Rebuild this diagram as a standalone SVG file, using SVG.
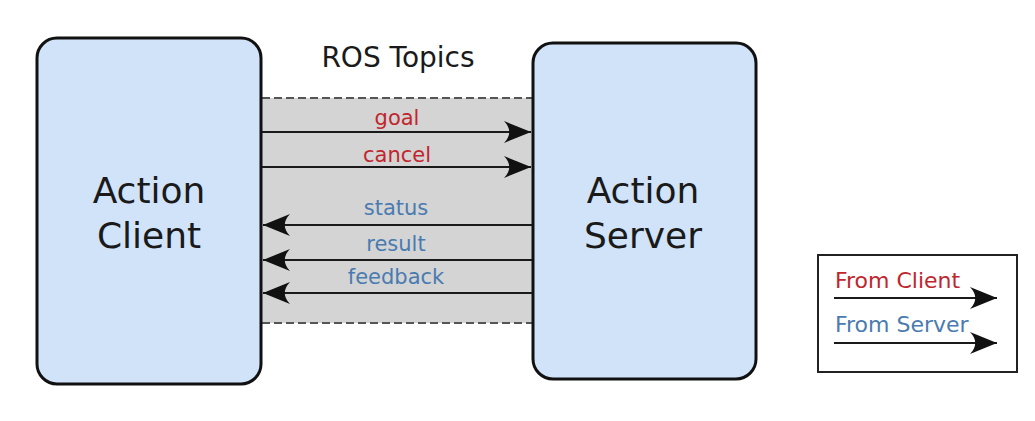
<svg xmlns="http://www.w3.org/2000/svg" width="1035" height="421" viewBox="0 0 1035 421">
  <style>
    .box { fill: #d0e3f9; stroke: #111; stroke-width: 3; }
    .title { font-family: "DejaVu Sans", sans-serif; font-size: 36px; fill: #1a1a1a; text-anchor: middle; }
    .lbl { font-family: "DejaVu Sans", sans-serif; font-size: 21px; text-anchor: middle; }
    .key { font-family: "DejaVu Sans", sans-serif; font-size: 22px; }
    .client { fill: #c0262e; }
    .server { fill: #4a7bb0; }
    .wire { stroke: #1a1a1a; stroke-width: 2.2; fill: none; }
    .dash { stroke: #555; stroke-width: 2; stroke-dasharray: 8 4; fill: none; }
  </style>
  <defs>
    <marker id="head" viewBox="-28 -13 30 26" refX="0" refY="0" markerWidth="30" markerHeight="26" markerUnits="userSpaceOnUse" orient="auto-start-reverse">
      <path d="M0,0 L-27,-11 C-20,-4 -20,4 -27,11 Z" fill="#111"/>
    </marker>
  </defs>
  <rect width="1035" height="421" fill="#fff"/>

  <!-- topic channel between the two nodes -->
  <g id="topics">
    <rect x="262" y="98" width="270" height="225" fill="#d4d4d4"/>
    <line class="dash" x1="262" y1="98" x2="532" y2="98"/>
    <line class="dash" x1="262" y1="323" x2="532" y2="323"/>
    <text class="lbl" x="398" y="67" style="font-size:28px;fill:#1a1a1a">ROS Topics</text>
  </g>

  <g id="client">
    <rect class="box" x="37" y="38" width="224" height="346" rx="20"/>
    <text class="title" x="149" y="203">Action</text>
    <text class="title" x="149" y="248">Client</text>
  </g>

  <g id="server">
    <rect class="box" x="533" y="43" width="223" height="336" rx="20"/>
    <text class="title" x="643" y="203">Action</text>
    <text class="title" x="643" y="248">Server</text>
  </g>

  <g id="connectors">
    <line class="wire" x1="262" y1="132" x2="531" y2="132" marker-end="url(#head)"/>
    <line class="wire" x1="262" y1="167" x2="531" y2="167" marker-end="url(#head)"/>
    <line class="wire" x1="532" y1="225" x2="263" y2="225" marker-end="url(#head)"/>
    <line class="wire" x1="532" y1="260" x2="263" y2="260" marker-end="url(#head)"/>
    <line class="wire" x1="532" y1="293" x2="263" y2="293" marker-end="url(#head)"/>
    <text class="lbl client" x="397" y="125">goal</text>
    <text class="lbl client" x="397" y="162">cancel</text>
    <text class="lbl server" x="396" y="215">status</text>
    <text class="lbl server" x="396" y="251">result</text>
    <text class="lbl server" x="396" y="284">feedback</text>
  </g>

  <g id="legend">
    <rect x="818" y="255" width="199" height="117" fill="#fff" stroke="#222" stroke-width="2"/>
    <text class="key client" x="835" y="288">From Client</text>
    <line class="wire" x1="834" y1="298" x2="997" y2="298" marker-end="url(#head)"/>
    <text class="key server" x="835" y="332">From Server</text>
    <line class="wire" x1="834" y1="343" x2="997" y2="343" marker-end="url(#head)"/>
  </g>
</svg>
